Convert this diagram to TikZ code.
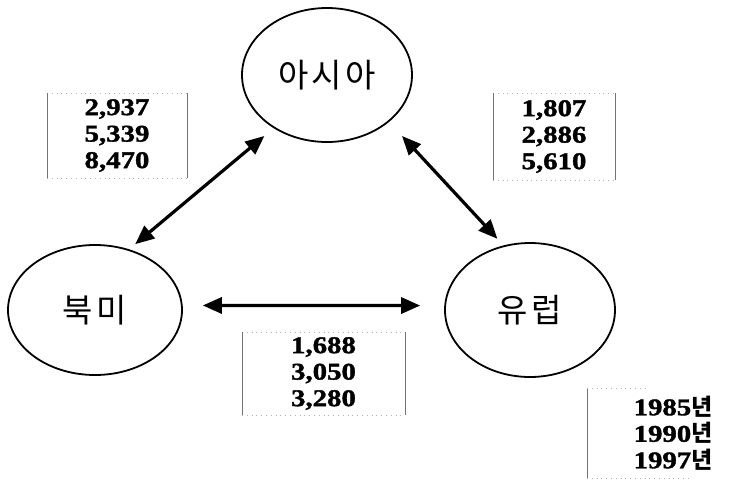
\documentclass[tikz,border=0pt]{standalone}
\usepackage{fontspec}
\setmainfont{Liberation Serif}
\newfontfamily\kor{Noto Sans CJK KR}
\newfontfamily\luku[FakeStretch=1.2,FakeBold=1.5]{Liberation Serif}
\usetikzlibrary{shapes.geometric,arrows.meta}

\begin{document}
\begin{tikzpicture}[x=1pt,y=-1pt,
  alue/.style={ellipse,draw,line width=1.8pt,outer sep=0pt,font=\kor\fontsize{33}{36}\selectfont},
  nuoli/.style={{Triangle[length=19pt,width=16pt]}-{Triangle[length=19pt,width=16pt]},line width=3.2pt},
  luvut/.style={align=center,inner sep=0pt,outer sep=0pt,font=\luku\bfseries\fontsize{24}{26.5}\selectfont}]
\useasboundingbox (0,0) rectangle (756,480);
\newcommand\kehys[1]{
\draw[gray!60,line width=0.8pt,loosely dotted] (#1.north west) -- (#1.north east);
\draw[gray!60,line width=0.8pt,loosely dotted] (#1.south west) -- (#1.south east);
\draw[black!55,line width=0.9pt] (#1.north west) -- (#1.south west);
\draw[black!55,line width=0.9pt] (#1.north east) -- (#1.south east);
}
\newcommand\nen{{\kor\bfseries\fontsize{23}{26}\selectfont 년}}
\node[alue,minimum width=170pt,minimum height=134pt] (asia) at (327,75) {아\hspace{3pt}시\hspace{3pt}아};
\node[alue,minimum width=174pt,minimum height=130pt] (na) at (95,310) {북\hspace{4pt}미};
\node[alue,minimum width=170pt,minimum height=134pt] (eu) at (530,310) {유\hspace{4pt}럽};
\draw[nuoli,shorten <=9pt,shorten >=13pt] (na.61) -- (asia.225);
\draw[nuoli,shorten <=20pt,shorten >=10pt] (asia.-37) -- (eu.112);
\draw[nuoli,shorten <=21pt,shorten >=25pt] (na.3) -- (eu.177);
\node[luvut,minimum width=140pt,minimum height=85pt] (b1) at (117,135.5) {2,937\\5,339\\8,470};
\node[luvut,minimum width=122pt,minimum height=87pt] (b2) at (554,136.5) {1,807\\2,886\\5,610};
\node[luvut,minimum width=163pt,minimum height=83pt] (b3) at (323.5,373.5) {1,688\\3,050\\3,280};
\node[luvut,minimum width=172pt,minimum height=90pt] (b4) at (673,433)
  {1985\nen\\1990\nen\\1997\nen};
\kehys{b1}
\kehys{b2}
\kehys{b3}
\draw[black!55,line width=0.9pt] (b4.north west) -- (b4.south west);
\draw[gray!60,line width=0.8pt,loosely dotted] (b4.north west) -- ++(60,0);
\draw[gray!60,line width=0.8pt,loosely dotted] (b4.south west) -- ++(105,0);
\end{tikzpicture}
\end{document}
